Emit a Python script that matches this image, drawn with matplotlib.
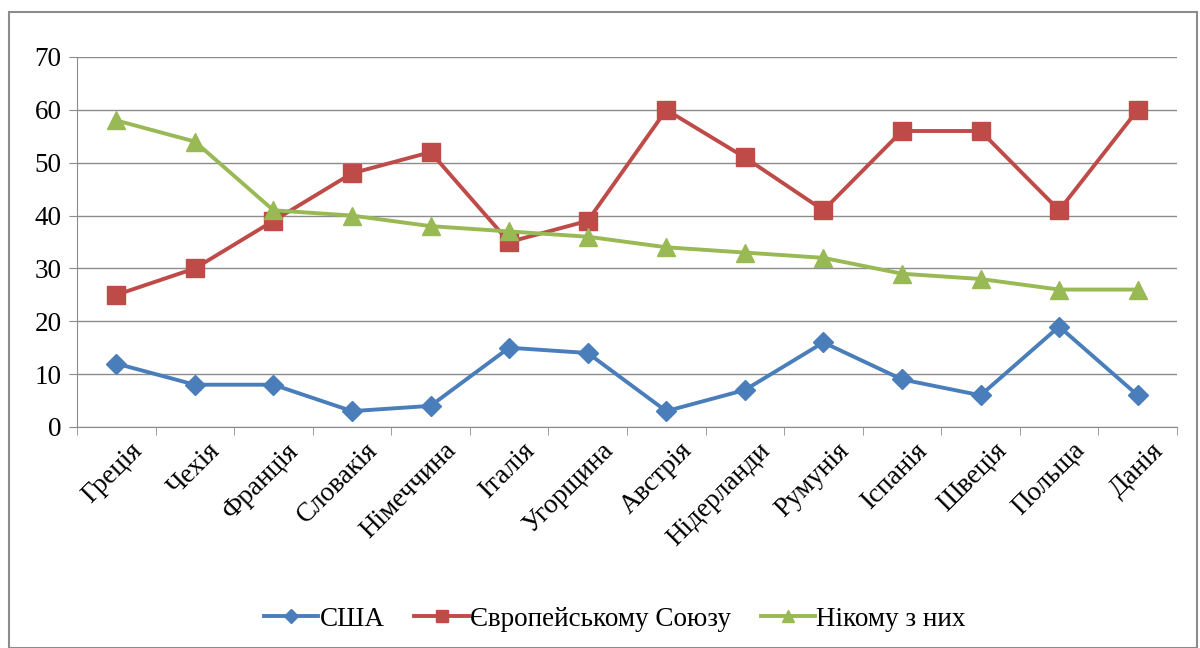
import numpy as np
import matplotlib.pyplot as plt
import matplotlib.transforms as mtransforms
from matplotlib.patches import Rectangle

plt.rcParams['font.family'] = ['Liberation Serif', 'DejaVu Serif']

countries = ["Греція", "Чехія", "Франція", "Словакія", "Німеччина", "Італія", "Угорщина",
             "Австрія", "Нідерланди", "Румунія", "Іспанія", "Швеція", "Польща", "Данія"]
usa = [12, 8, 8, 3, 4, 15, 14, 3, 7, 16, 9, 6, 19, 6]
eu = [25, 30, 39, 48, 52, 35, 39, 60, 51, 41, 56, 56, 41, 60]
none_of = [58, 54, 41, 40, 38, 37, 36, 34, 33, 32, 29, 28, 26, 26]

fig = plt.figure(figsize=(12, 6.48), dpi=100)
fig.patches.append(Rectangle((9/1200, 0), 1188/1200, 1 - 12/648, transform=fig.transFigure,
                             fill=False, edgecolor='#8c8c8c', linewidth=1.5))
ax = fig.add_axes([77/1200, 1 - 427/648, 1100/1200, 370/648])

x = np.arange(len(countries))
ax.plot(x, usa, color='#4A7EBB', lw=2.8, marker='D', ms=10, label='США', zorder=3)
ax.plot(x, eu, color='#BE4B48', lw=2.8, marker='s', ms=13, label='Європейському Союзу', zorder=3)
ax.plot(x, none_of, color='#98B954', lw=2.8, marker='^', ms=13, label='Нікому з них', zorder=3)

ax.set_xlim(-0.5, len(countries) - 0.5)
ax.set_ylim(0, 70)
ax.set_yticks(range(0, 71, 10))
ax.grid(axis='y', color='#8c8c8c', lw=1)
ax.set_axisbelow(True)

for s in ['top', 'right']:
    ax.spines[s].set_visible(False)
for s in ['left', 'bottom']:
    ax.spines[s].set_color('#8c8c8c')

ax.set_xticks(x)
ax.set_xticklabels(countries, rotation=45, ha='right', rotation_mode='anchor', fontsize=19.5)
ax.set_xticks(np.arange(-0.5, len(countries), 1), minor=True)
ax.tick_params(axis='x', which='major', length=0, pad=8)
ax.tick_params(axis='x', which='minor', length=6, color='#8c8c8c')
ax.tick_params(axis='y', length=6, color='#8c8c8c', labelsize=19.5, pad=5)
offset = mtransforms.ScaledTranslation(13/100, 0, fig.dpi_scale_trans)
for lab in ax.get_xticklabels():
    lab.set_transform(lab.get_transform() + offset)

leg = fig.legend(loc='center', bbox_to_anchor=(615/1200, 1 - 619/648), ncol=3, frameon=False,
                 fontsize=19.5, handlelength=2.0, columnspacing=1.1, handletextpad=0.05,
                 markerscale=0.7)

fig.savefig('out.png', dpi=100, facecolor='white')
